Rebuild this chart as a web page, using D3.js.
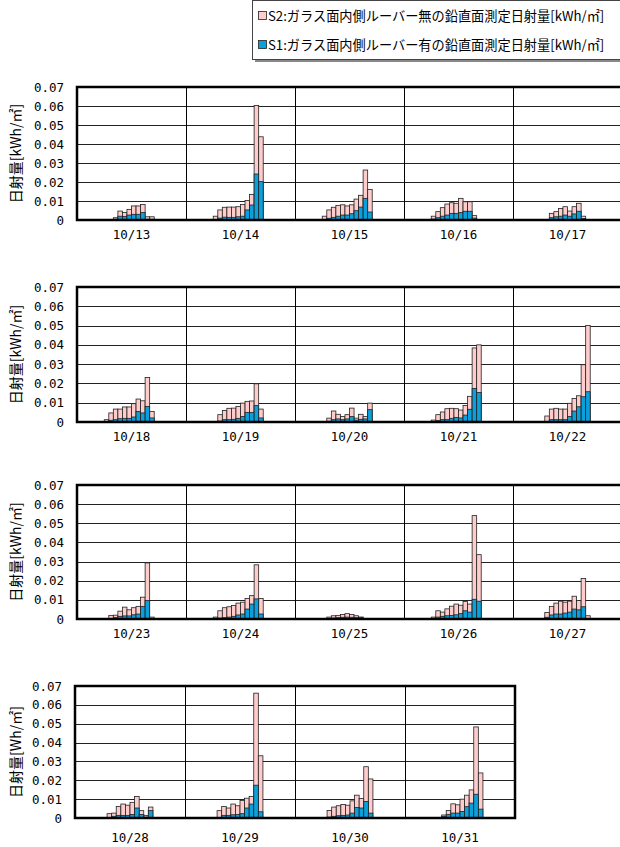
<!DOCTYPE html>
<html>
  <head>
    <meta charset="utf-8">
    <script src="https://cdn.jsdelivr.net/npm/d3@7"></script>
    <style>
      body { margin: 0; background: #fff; }
      text { font-family: "Noto Sans CJK JP", sans-serif; }
      .num { font-family: "DejaVu Sans Mono", monospace; font-size: 12.5px; }
    </style>
  </head>
  <body>
    <svg id="chart" width="620" height="847"></svg>

    <script>
      // dates shown, one group of hourly bars per day
      var dates = ["10/13", "10/14", "10/15", "10/16", "10/17",
                   "10/18", "10/19", "10/20", "10/21", "10/22",
                   "10/23", "10/24", "10/25", "10/26", "10/27",
                   "10/28", "10/29", "10/30", "10/31"];
      var hours = d3.range(24);
      var firstHour = 6;   // values below start at 6:00 (6..16)
      var yTicks = [0, 0.01, 0.02, 0.03, 0.04, 0.05, 0.06, 0.07];

      // S2: without louver (pink)
      var s2 = [
        [0, 0.0003, 0.0012, 0.0047, 0.0040, 0.0056, 0.0074, 0.0074, 0.0082, 0.0017, 0.0017],
        [0.0020, 0.0053, 0.0067, 0.0068, 0.0068, 0.0070, 0.0082, 0.0103, 0.0135, 0.0603, 0.0438],
        [0.0020, 0.0053, 0.0067, 0.0077, 0.0080, 0.0074, 0.0080, 0.0110, 0.0130, 0.0263, 0.0161],
        [0.0020, 0.0044, 0.0065, 0.0084, 0.0091, 0.0088, 0.0114, 0.0096, 0.0096, 0.0023, 0],
        [0, 0.0003, 0.0035, 0.0044, 0.0061, 0.0070, 0.0047, 0.0070, 0.0088, 0.0020, 0],
        [0.0012, 0.0047, 0.0067, 0.0067, 0.0078, 0.0078, 0.0095, 0.0119, 0.0110, 0.0231, 0.0055],
        [0.0003, 0.0038, 0.0060, 0.0071, 0.0072, 0.0081, 0.0098, 0.0107, 0.0109, 0.0198, 0.0067],
        [0, 0.0020, 0.0057, 0.0040, 0.0028, 0.0038, 0.0072, 0.0020, 0.0040, 0.0028, 0.0098],
        [0.0010, 0.0038, 0.0052, 0.0069, 0.0071, 0.0069, 0.0062, 0.0086, 0.0133, 0.0384, 0.0400],
        [0.0003, 0.0031, 0.0067, 0.0071, 0.0067, 0.0067, 0.0097, 0.0122, 0.0136, 0.0297, 0.0500],
        [0, 0.0019, 0.0020, 0.0041, 0.0062, 0.0048, 0.0059, 0.0066, 0.0114, 0.0293, 0.0010],
        [0.0010, 0.0043, 0.0059, 0.0064, 0.0071, 0.0083, 0.0088, 0.0107, 0.0122, 0.0283, 0.0107],
        [0, 0.0010, 0.0017, 0.0019, 0.0024, 0.0028, 0.0024, 0.0017, 0.0010, 0, 0],
        [0.0010, 0.0043, 0.0036, 0.0053, 0.0067, 0.0078, 0.0072, 0.0091, 0.0078, 0.0540, 0.0336],
        [0, 0.0034, 0.0066, 0.0083, 0.0093, 0.0088, 0.0093, 0.0119, 0.0097, 0.0212, 0.0017],
        [0, 0.0023, 0.0026, 0.0061, 0.0074, 0.0068, 0.0083, 0.0114, 0.0039, 0.0014, 0.0058],
        [0.0003, 0.0039, 0.0061, 0.0053, 0.0074, 0.0065, 0.0093, 0.0105, 0.0114, 0.0662, 0.0330],
        [0.0003, 0.0040, 0.0058, 0.0065, 0.0072, 0.0068, 0.0091, 0.0121, 0.0104, 0.0272, 0.0207],
        [0, 0.0003, 0.0016, 0.0040, 0.0075, 0.0070, 0.0100, 0.0121, 0.0149, 0.0483, 0.0239]
      ];

      // S1: with louver (blue)
      var s1 = [
        [0, 0.0001, 0.0004, 0.0020, 0.0018, 0.0026, 0.0030, 0.0030, 0.0039, 0.0004, 0.0004],
        [0.0003, 0.0010, 0.0015, 0.0014, 0.0014, 0.0017, 0.0020, 0.0053, 0.0079, 0.0242, 0.0202],
        [0.0003, 0.0009, 0.0014, 0.0020, 0.0026, 0.0026, 0.0033, 0.0049, 0.0068, 0.0114, 0.0042],
        [0.0005, 0.0012, 0.0020, 0.0026, 0.0035, 0.0035, 0.0039, 0.0046, 0.0046, 0.0010, 0],
        [0, 0.0001, 0.0012, 0.0017, 0.0020, 0.0026, 0.0020, 0.0032, 0.0046, 0.0008, 0],
        [0.0002, 0.0009, 0.0012, 0.0017, 0.0019, 0.0019, 0.0026, 0.0055, 0.0047, 0.0081, 0.0021],
        [0.0001, 0.0005, 0.0012, 0.0012, 0.0014, 0.0019, 0.0029, 0.0050, 0.0050, 0.0085, 0.0021],
        [0, 0.0004, 0.0012, 0.0016, 0.0012, 0.0016, 0.0028, 0.0010, 0.0014, 0.0016, 0.0064],
        [0.0002, 0.0007, 0.0012, 0.0012, 0.0019, 0.0024, 0.0021, 0.0036, 0.0066, 0.0174, 0.0153],
        [0.0001, 0.0003, 0.0012, 0.0012, 0.0012, 0.0012, 0.0028, 0.0057, 0.0079, 0.0131, 0.0157],
        [0, 0.0003, 0.0007, 0.0014, 0.0016, 0.0016, 0.0022, 0.0026, 0.0066, 0.0097, 0.0003],
        [0.0002, 0.0005, 0.0007, 0.0010, 0.0014, 0.0021, 0.0026, 0.0052, 0.0078, 0.0105, 0.0026],
        [0, 0.0003, 0.0005, 0.0007, 0.0009, 0.0010, 0.0009, 0.0007, 0.0009, 0, 0],
        [0.0002, 0.0010, 0.0014, 0.0017, 0.0019, 0.0022, 0.0028, 0.0043, 0.0036, 0.0103, 0.0093],
        [0, 0.0009, 0.0021, 0.0026, 0.0026, 0.0031, 0.0036, 0.0052, 0.0048, 0.0064, 0.0003],
        [0, 0.0003, 0.0009, 0.0014, 0.0014, 0.0014, 0.0019, 0.0053, 0.0019, 0.0005, 0.0040],
        [0.0001, 0.0003, 0.0014, 0.0014, 0.0017, 0.0019, 0.0023, 0.0053, 0.0074, 0.0174, 0.0033],
        [0.0001, 0.0005, 0.0009, 0.0012, 0.0014, 0.0016, 0.0026, 0.0056, 0.0053, 0.0088, 0.0026],
        [0, 0.0001, 0.0009, 0.0018, 0.0026, 0.0026, 0.0035, 0.0060, 0.0079, 0.0126, 0.0047]
      ];

      var seriesNames = ["S2:ガラス面内側ルーバー無の鉛直面測定日射量[kWh/㎡]",
                         "S1:ガラス面内側ルーバー有の鉛直面測定日射量[kWh/㎡]"];
      var yTitles = ["日射量[kWh/㎡]", "日射量[kWh/㎡]", "日射量[kWh/㎡]", "日射量[Wh/㎡]"];

      var pink = "#ffcccc", blue = "#0aa0dc";

      // panel layout
      var rows = [
        {from: 0, to: 5, left: 77, right: 622, top: 87, bottom: 220, labelDy: 19},
        {from: 5, to: 10, left: 77, right: 622, top: 287, bottom: 422, labelDy: 19},
        {from: 10, to: 15, left: 77, right: 622, top: 485, bottom: 619, labelDy: 19},
        {from: 15, to: 19, left: 75, right: 515, top: 686, bottom: 818, labelDy: 24}
      ];

      var svg = d3.select("#chart");

      rows.forEach(function(r, ri) {
        var days = dates.slice(r.from, r.to);
        var x = d3.scaleBand().domain(days).range([r.left, r.right]).padding(0);
        var xh = d3.scaleBand().domain(hours).range([0, x.bandwidth()]).padding(0);
        var y = d3.scaleLinear().domain([0, 0.07]).range([r.bottom, r.top]);
        var g = svg.append("g");

        g.append("rect")
          .attr("x", r.left).attr("y", r.top)
          .attr("width", r.right - r.left).attr("height", r.bottom - r.top)
          .attr("fill", "#fff");

        // grid
        g.selectAll(".grid").data(yTicks.slice(1, -1)).join("line")
          .attr("x1", r.left).attr("x2", r.right)
          .attr("y1", function(d) { return Math.round(y(d)) + 0.5; })
          .attr("y2", function(d) { return Math.round(y(d)) + 0.5; })
          .attr("stroke", "#222").attr("stroke-width", 1);

        g.selectAll(".sep").data(days.slice(1)).join("line")
          .attr("x1", function(d) { return Math.round(x(d)) + 0.5; })
          .attr("x2", function(d) { return Math.round(x(d)) + 0.5; })
          .attr("y1", r.top).attr("y2", r.bottom)
          .attr("stroke", "#000").attr("stroke-width", 1);

        days.forEach(function(day, di) {
          var k = r.from + di;
          var dg = g.append("g").attr("transform", "translate(" + x(day) + ",0)");
          var rowsS2 = s2[k].map(function(v, i) { return {h: firstHour + i, v: v}; })
            .filter(function(d) { return d.v > 0; });
          var rowsS1 = s1[k].map(function(v, i) { return {h: firstHour + i, v: v}; })
            .filter(function(d) { return d.v > 0; });

          dg.selectAll(".s2").data(rowsS2).join("rect")
            .attr("x", function(d) { return xh(d.h); })
            .attr("width", xh.bandwidth())
            .attr("y", function(d) { return y(d.v); })
            .attr("height", function(d) { return y(0) - y(d.v); })
            .attr("fill", pink).attr("stroke", "#222").attr("stroke-width", 0.8);

          dg.selectAll(".s1").data(rowsS1).join("rect")
            .attr("x", function(d) { return xh(d.h); })
            .attr("width", xh.bandwidth())
            .attr("y", function(d) { return y(d.v); })
            .attr("height", function(d) { return y(0) - y(d.v); })
            .attr("fill", blue).attr("stroke", "#222").attr("stroke-width", 0.8);
        });

        // frame
        g.append("rect")
          .attr("x", r.left).attr("y", r.top)
          .attr("width", r.right - r.left).attr("height", r.bottom - r.top)
          .attr("fill", "none").attr("stroke", "#000").attr("stroke-width", 2.5);

        // y tick labels
        g.selectAll(".yt").data(yTicks).join("text")
          .attr("class", "num")
          .attr("x", r.left - 13)
          .attr("y", function(d) { return y(d); })
          .attr("dy", "0.36em")
          .attr("text-anchor", "end")
          .text(function(d) { return d === 0 ? "0" : d3.format(".2f")(d); });

        // day labels
        g.selectAll(".xt").data(days).join("text")
          .attr("class", "num")
          .attr("x", function(d) { return x(d) + x.bandwidth() / 2; })
          .attr("y", r.bottom + r.labelDy)
          .attr("text-anchor", "middle")
          .text(function(d) { return d; });

        g.append("text")
          .attr("transform", "translate(16," + (r.top + r.bottom) / 2 + ") rotate(-90)")
          .attr("text-anchor", "middle")
          .attr("dy", "0.35em")
          .attr("font-size", 14)
          .text(yTitles[ri]);
      });

      // legend
      var lg = svg.append("g");
      lg.append("rect").attr("x", 255).attr("y", 3).attr("width", 370).attr("height", 59)
        .attr("fill", "#888");
      lg.append("rect").attr("x", 252.5).attr("y", 0.5).attr("width", 370).attr("height", 59)
        .attr("fill", "#fff").attr("stroke", "#444").attr("stroke-width", 1);
      [pink, blue].forEach(function(c, i) {
        var cy = 16 + i * 29;
        lg.append("rect").attr("x", 258.5).attr("y", cy - 4.5).attr("width", 8).attr("height", 8)
          .attr("fill", c).attr("stroke", "#222").attr("stroke-width", 0.8);
        lg.append("text").attr("x", 268).attr("y", cy).attr("dy", "0.36em")
          .attr("font-size", 13.2).text(seriesNames[i]);
      });
    </script>
  </body>
</html>
